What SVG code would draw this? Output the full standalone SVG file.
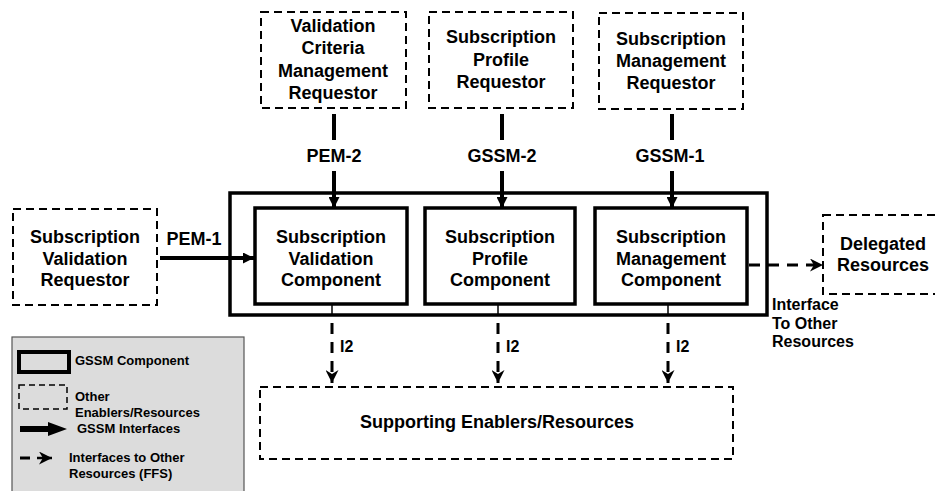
<svg xmlns="http://www.w3.org/2000/svg" width="935" height="491" viewBox="0 0 935 491">
<style>
text{font-family:"Liberation Sans",Arial,sans-serif;font-weight:bold;fill:#000;text-anchor:middle}
.n{font-size:18px}
.s{font-size:16px;text-anchor:start}
.lg{font-size:13px;text-anchor:start}
.dash{fill:#fff;stroke:#000;stroke-width:2;stroke-dasharray:8,5}
.comp{fill:#fff;stroke:#000;stroke-width:3.5}
.sol{stroke:#000;stroke-width:4;fill:none}
.dl{stroke:#000;stroke-width:3;fill:none;stroke-dasharray:11,8}
</style>
<defs>
<marker id="ah" viewBox="0 0 10 10" markerUnits="userSpaceOnUse" markerWidth="11" markerHeight="11" refX="10" refY="5" orient="auto"><path d="M0,0 L10,5 L0,10 z" fill="#000"/></marker>
<marker id="dh" viewBox="0 0 10 10" markerUnits="userSpaceOnUse" markerWidth="13" markerHeight="13" refX="10" refY="5" orient="auto"><path d="M0,0 L10,5 L0,10 L3,5 z" fill="#000"/></marker>
</defs>
<rect width="935" height="491" fill="#fff"/>

<g id="gssm-outer"><rect x="230" y="193" width="537" height="122" class="comp"/></g>

<g id="vcm-requestor"><rect x="261" y="12" width="145" height="96" class="dash"/>
<text class="n" x="333" y="32">Validation</text><text class="n" x="333" y="54">Criteria</text><text class="n" x="333" y="77">Management</text><text class="n" x="333" y="99">Requestor</text></g>

<g id="sp-requestor"><rect x="429" y="12" width="144" height="96" class="dash"/>
<text class="n" x="501" y="43">Subscription</text><text class="n" x="501" y="66">Profile</text><text class="n" x="501" y="88">Requestor</text></g>

<g id="sm-requestor"><rect x="599" y="13" width="144" height="96" class="dash"/>
<text class="n" x="671" y="45">Subscription</text><text class="n" x="671" y="67">Management</text><text class="n" x="671" y="89">Requestor</text></g>

<g id="sv-requestor"><rect x="13" y="209" width="144" height="96" class="dash"/>
<text class="n" x="85" y="243">Subscription</text><text class="n" x="85" y="265">Validation</text><text class="n" x="85" y="286">Requestor</text></g>

<g id="sv-component"><rect x="255" y="208" width="152" height="96" class="comp"/>
<text class="n" x="331" y="243">Subscription</text><text class="n" x="331" y="265">Validation</text><text class="n" x="331" y="286">Component</text></g>

<g id="sp-component"><rect x="425" y="208" width="150" height="96" class="comp"/>
<text class="n" x="500" y="243">Subscription</text><text class="n" x="500" y="265">Profile</text><text class="n" x="500" y="286">Component</text></g>

<g id="sm-component"><rect x="595" y="208" width="152" height="96" class="comp"/>
<text class="n" x="671" y="243">Subscription</text><text class="n" x="671" y="265">Management</text><text class="n" x="671" y="286">Component</text></g>

<g id="delegated"><rect x="823" y="215" width="130" height="79" class="dash"/>
<text class="n" x="883" y="250">Delegated</text><text class="n" x="883" y="271">Resources</text></g>

<g id="supporting"><rect x="260" y="387" width="473" height="72" class="dash"/>
<text class="n" x="497" y="428">Supporting Enablers/Resources</text></g>

<g id="connectors">
<line x1="334" y1="114" x2="334" y2="140" class="sol"/>
<line x1="334" y1="171" x2="334" y2="208" class="sol" marker-end="url(#ah)"/>
<text class="n" x="334" y="162">PEM-2</text>
<line x1="502" y1="114" x2="502" y2="140" class="sol"/>
<line x1="502" y1="171" x2="502" y2="208" class="sol" marker-end="url(#ah)"/>
<text class="n" x="502" y="162">GSSM-2</text>
<line x1="672" y1="114" x2="672" y2="140" class="sol"/>
<line x1="672" y1="171" x2="672" y2="208" class="sol" marker-end="url(#ah)"/>
<text class="n" x="670" y="162">GSSM-1</text>
<line x1="160" y1="258" x2="254" y2="258" class="sol" marker-end="url(#ah)"/>
<text class="n" x="194" y="245">PEM-1</text>
<line x1="749" y1="265" x2="823" y2="265" class="dl" marker-end="url(#dh)"/>
<text class="s" x="772" y="310">Interface</text><text class="s" x="772" y="329">To Other</text><text class="s" x="772" y="347">Resources</text>
<g stroke="#000" stroke-width="1.5"><line x1="332" y1="305" x2="332" y2="314"/><line x1="498" y1="305" x2="498" y2="314"/><line x1="668" y1="305" x2="668" y2="314"/></g>
<line x1="332" y1="323" x2="332" y2="383" class="dl" marker-end="url(#dh)"/>
<line x1="498" y1="323" x2="498" y2="383" class="dl" marker-end="url(#dh)"/>
<line x1="668" y1="323" x2="668" y2="383" class="dl" marker-end="url(#dh)"/>
<text class="s" x="340" y="352">I2</text><text class="s" x="506" y="352">I2</text><text class="s" x="676" y="352">I2</text>
</g>

<g id="legend">
<rect x="12" y="337" width="232" height="170" fill="#dcdcdc" stroke="#555" stroke-width="1.2"/>
<rect x="19" y="352" width="50" height="20" fill="none" stroke="#000" stroke-width="4"/>
<text class="lg" x="75" y="365">GSSM Component</text>
<rect x="19" y="385" width="48" height="24" fill="none" stroke="#000" stroke-width="1.5" stroke-dasharray="6,4"/>
<text class="lg" x="75" y="401">Other</text><text class="lg" x="75" y="417">Enablers/Resources</text>
<path d="M20,426 L48,426 L48,422 L67,429 L48,436 L48,432 L20,432 z" fill="#000"/>
<text class="lg" x="77" y="433">GSSM Interfaces</text>
<line x1="20" y1="458" x2="30" y2="458" stroke="#000" stroke-width="3"/>
<line x1="37" y1="458" x2="52" y2="458" stroke="#000" stroke-width="2.5" marker-end="url(#dh)"/>
<text class="lg" x="69" y="462">Interfaces to Other</text><text class="lg" x="69" y="478">Resources (FFS)</text>
</g>
</svg>
